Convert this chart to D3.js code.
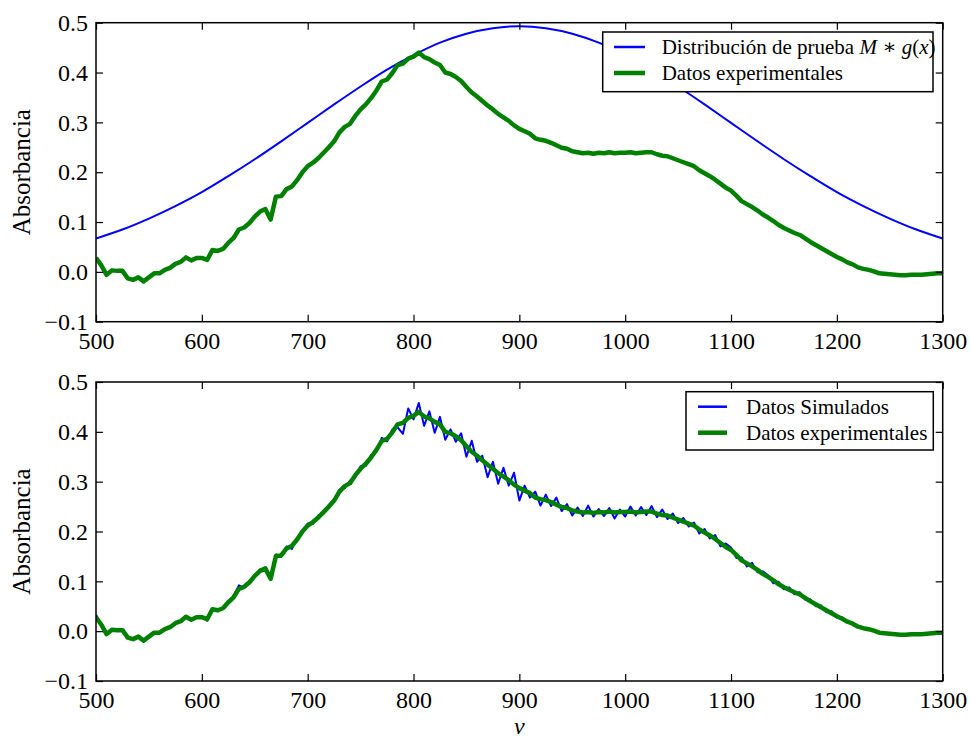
<!DOCTYPE html>
<html>
<head>
<meta charset="utf-8">
<script src="https://cdn.jsdelivr.net/npm/d3@7"></script>
<style>
  body { margin: 0; background: #fff; }
  svg text { font-family: "Liberation Serif", "DejaVu Serif", serif; fill: #000; }
</style>
</head>
<body>
<div id="root"></div>
<script>
// x grid (nu) for the measured / simulated spectra
const nu = d3.range(500, 1301, 5);

const expAbs = [
  0.028, 0.013, -0.006, 0.003, 0.002, 0.002, -0.013, -0.016, -0.011, -0.019,
  -0.011, -0.003, -0.003, 0.004, 0.008, 0.016, 0.020, 0.029, 0.023, 0.028,
  0.028, 0.024, 0.044, 0.042, 0.046, 0.058, 0.068, 0.085, 0.089, 0.098,
  0.111, 0.121, 0.126, 0.105, 0.151, 0.152, 0.166, 0.171, 0.184, 0.200,
  0.212, 0.219, 0.228, 0.239, 0.250, 0.262, 0.280, 0.291, 0.297, 0.313,
  0.326, 0.336, 0.349, 0.364, 0.382, 0.386, 0.399, 0.415, 0.418, 0.428,
  0.432, 0.440, 0.431, 0.427, 0.420, 0.415, 0.400, 0.397, 0.391, 0.383,
  0.371, 0.360, 0.352, 0.343, 0.334, 0.326, 0.317, 0.310, 0.303, 0.294,
  0.287, 0.282, 0.277, 0.268, 0.265, 0.263, 0.259, 0.254, 0.249, 0.247,
  0.242, 0.240, 0.238, 0.239, 0.237, 0.239, 0.238, 0.240, 0.238, 0.239,
  0.239, 0.240, 0.238, 0.239, 0.240, 0.240, 0.236, 0.233, 0.232, 0.228,
  0.224, 0.220, 0.216, 0.212, 0.204, 0.198, 0.192, 0.185, 0.177, 0.169,
  0.163, 0.153, 0.142, 0.136, 0.130, 0.123, 0.115, 0.109, 0.102, 0.094,
  0.088, 0.083, 0.078, 0.074, 0.067, 0.060, 0.054, 0.048, 0.042, 0.036,
  0.030, 0.025, 0.019, 0.015, 0.009, 0.006, 0.004, 0.001, -0.003, -0.004,
  -0.005, -0.006, -0.007, -0.007, -0.006, -0.006, -0.006, -0.005, -0.004, -0.003,
  -0.003
];

// absorbance, datos simulados (bottom panel, noisy)
const simAbs = [
  0.033, 0.012, -0.005, 0.004, 0.001, 0.004, -0.014, -0.015, -0.012, -0.018,
  -0.012, -0.002, -0.004, 0.005, 0.007, 0.018, 0.021, 0.027, 0.025, 0.027,
  0.030, 0.021, 0.045, 0.040, 0.048, 0.056, 0.070, 0.092, 0.087, 0.100,
  0.109, 0.124, 0.122, 0.103, 0.154, 0.149, 0.170, 0.165, 0.187, 0.197,
  0.216, 0.215, 0.232, 0.236, 0.253, 0.259, 0.284, 0.287, 0.302, 0.309,
  0.331, 0.332, 0.354, 0.360, 0.388, 0.381, 0.405, 0.409, 0.396, 0.447,
  0.425, 0.458, 0.412, 0.441, 0.398, 0.430, 0.384, 0.405, 0.380, 0.397,
  0.350, 0.382, 0.340, 0.352, 0.309, 0.340, 0.296, 0.328, 0.292, 0.318,
  0.262, 0.292, 0.268, 0.280, 0.252, 0.274, 0.251, 0.268, 0.241, 0.255,
  0.232, 0.248, 0.231, 0.252, 0.230, 0.245, 0.231, 0.247, 0.226, 0.244,
  0.230, 0.250, 0.232, 0.249, 0.233, 0.251, 0.229, 0.244, 0.225, 0.236,
  0.217, 0.227, 0.210, 0.218, 0.196, 0.205, 0.186, 0.193, 0.170, 0.176,
  0.168, 0.147, 0.148, 0.130, 0.137, 0.118, 0.120, 0.112, 0.096, 0.099,
  0.084, 0.088, 0.074, 0.078, 0.063, 0.064, 0.050, 0.052, 0.038, 0.040,
  0.027, 0.028, 0.017, 0.016, 0.008, 0.007, 0.003, 0.000, -0.004, -0.004,
  -0.006, -0.006, -0.008, -0.007, -0.006, -0.005, -0.006, -0.005, -0.004, -0.003,
  -0.003
];

// test distribution M*g(x), read every 25 units
const gaussNu = d3.range(500, 1301, 25);
const gaussAbs = [
  0.067, 0.085, 0.107, 0.132, 0.160, 0.192, 0.226, 0.262, 0.299, 0.336, 0.372,
  0.406, 0.435, 0.460, 0.478, 0.489, 0.493, 0.489, 0.478, 0.460, 0.435, 0.406,
  0.372, 0.336, 0.299, 0.262, 0.226, 0.192, 0.160, 0.132, 0.107, 0.085, 0.067
];

const xTicks = [500, 600, 700, 800, 900, 1000, 1100, 1200, 1300];
const yTicks = [-0.1, 0.0, 0.1, 0.2, 0.3, 0.4, 0.5];

const FONT = '"Liberation Serif", "DejaVu Serif", serif';
const W = 970, H = 740;
const left = 96, right = 942.7;
const panelH = 299;

var svg = d3.select('#root').append('svg')
            .attr('width', W)
            .attr('height', H)
            .style('font-family', FONT);

var x = d3.scaleLinear().domain([500, 1300]).range([left, right]);

function drawPanel(top, id, series, legendItems, legendBox) {
    var y = d3.scaleLinear().domain([-0.1, 0.5]).range([top + panelH, top]);
    var g = svg.append('g').attr('class', 'panel');

    g.append('clipPath').attr('id', id)
     .append('rect')
     .attr('x', left).attr('y', top)
     .attr('width', right - left).attr('height', panelH);

    var lines = g.append('g').attr('clip-path', 'url(#' + id + ')');
    series.forEach(function (s) {
        var pts = s.xs.map(function (v, i) { return [v, s.ys[i]]; });
        lines.append('path')
             .datum(pts)
             .attr('fill', 'none')
             .attr('stroke', s.color)
             .attr('stroke-width', s.width)
             .attr('stroke-linejoin', 'round')
             .attr('d', d3.line()
                          .x(function (d) { return x(d[0]); })
                          .y(function (d) { return y(d[1]); })
                          .curve(s.smooth ? d3.curveMonotoneX : d3.curveLinear));
    });

    // inward ticks on all four sides
    g.append('g').attr('transform', 'translate(0,' + (top + panelH) + ')')
     .call(d3.axisBottom(x).tickValues(xTicks).tickFormat(d3.format('d'))
             .tickSizeInner(-7).tickSizeOuter(0).tickPadding(10));
    g.append('g').attr('transform', 'translate(0,' + top + ')')
     .call(d3.axisTop(x).tickValues(xTicks).tickSizeInner(-7).tickSizeOuter(0).tickFormat(''));
    g.append('g').attr('transform', 'translate(' + left + ',0)')
     .call(d3.axisLeft(y).tickValues(yTicks).tickFormat(d3.format('.1f'))
             .tickSizeInner(-7).tickSizeOuter(0).tickPadding(8));
    g.append('g').attr('transform', 'translate(' + right + ',0)')
     .call(d3.axisRight(y).tickValues(yTicks).tickSizeInner(-7).tickSizeOuter(0).tickFormat(''));

    g.selectAll('.domain').remove();
    g.selectAll('.tick line').attr('stroke', '#000').attr('stroke-width', 1.2);
    g.selectAll('.tick text')
     .style('font-family', FONT)
     .style('font-size', '24px')
     .attr('fill', '#000');

    g.append('rect')
     .attr('x', left).attr('y', top)
     .attr('width', right - left).attr('height', panelH)
     .attr('fill', 'none').attr('stroke', '#000').attr('stroke-width', 1.5);

    g.append('text')
     .attr('transform', 'translate(30,' + (top + panelH / 2) + ') rotate(-90)')
     .attr('text-anchor', 'middle')
     .style('font-family', FONT)
     .style('font-size', '25px')
     .text('Absorbancia');

    // legend
    var lg = g.append('g');
    lg.append('rect')
      .attr('x', legendBox.x).attr('y', top + legendBox.y)
      .attr('width', legendBox.w).attr('height', legendBox.h)
      .attr('fill', '#fff').attr('stroke', '#000').attr('stroke-width', 1.5);
    legendItems.forEach(function (it, i) {
        var ly = top + legendBox.y + 15 + i * 26;
        lg.append('line')
          .attr('x1', legendBox.lx1).attr('x2', legendBox.lx2)
          .attr('y1', ly).attr('y2', ly)
          .attr('stroke', it.color).attr('stroke-width', it.width);
        var t = lg.append('text')
          .attr('x', legendBox.tx).attr('y', ly + 7)
          .style('font-family', FONT)
          .style('font-size', '21px');
        t.append('tspan').text(it.label);
        if (it.math) {
            t.append('tspan').style('font-style', 'italic').text(it.math[0]);
            t.append('tspan').text(it.math[1]);
            t.append('tspan').style('font-style', 'italic').text(it.math[2]);
            t.append('tspan').text(it.math[3]);
            t.append('tspan').style('font-style', 'italic').text(it.math[4]);
            t.append('tspan').text(it.math[5]);
        }
    });
}

drawPanel(22.7, 'clipTop',
    [
        { xs: gaussNu, ys: gaussAbs, color: '#0000ff', width: 2, smooth: true },
        { xs: nu, ys: expAbs, color: '#008000', width: 4.5 }
    ],
    [
        { label: 'Distribución de prueba ', math: ['M', ' ∗ ', 'g', '(', 'x', ')'], color: '#0000ff', width: 2.5 },
        { label: 'Datos experimentales', color: '#008000', width: 4.5 }
    ],
    { x: 602.7, y: 9.3, w: 330.3, h: 59.7, lx1: 614, lx2: 645, tx: 661.7 });

drawPanel(382, 'clipBot',
    [
        { xs: nu, ys: simAbs, color: '#0000ff', width: 2 },
        { xs: nu, ys: expAbs, color: '#008000', width: 4.5 }
    ],
    [
        { label: 'Datos Simulados', color: '#0000ff', width: 2.5 },
        { label: 'Datos experimentales', color: '#008000', width: 4.5 }
    ],
    { x: 686, y: 9.7, w: 247.3, h: 58.3, lx1: 698, lx2: 727, tx: 746 });

svg.append('text')
   .attr('x', (left + right) / 2)
   .attr('y', 734)
   .attr('text-anchor', 'middle')
   .style('font-family', FONT)
   .style('font-size', '24px')
   .style('font-style', 'italic')
   .text('ν');
</script>
</body>
</html>
